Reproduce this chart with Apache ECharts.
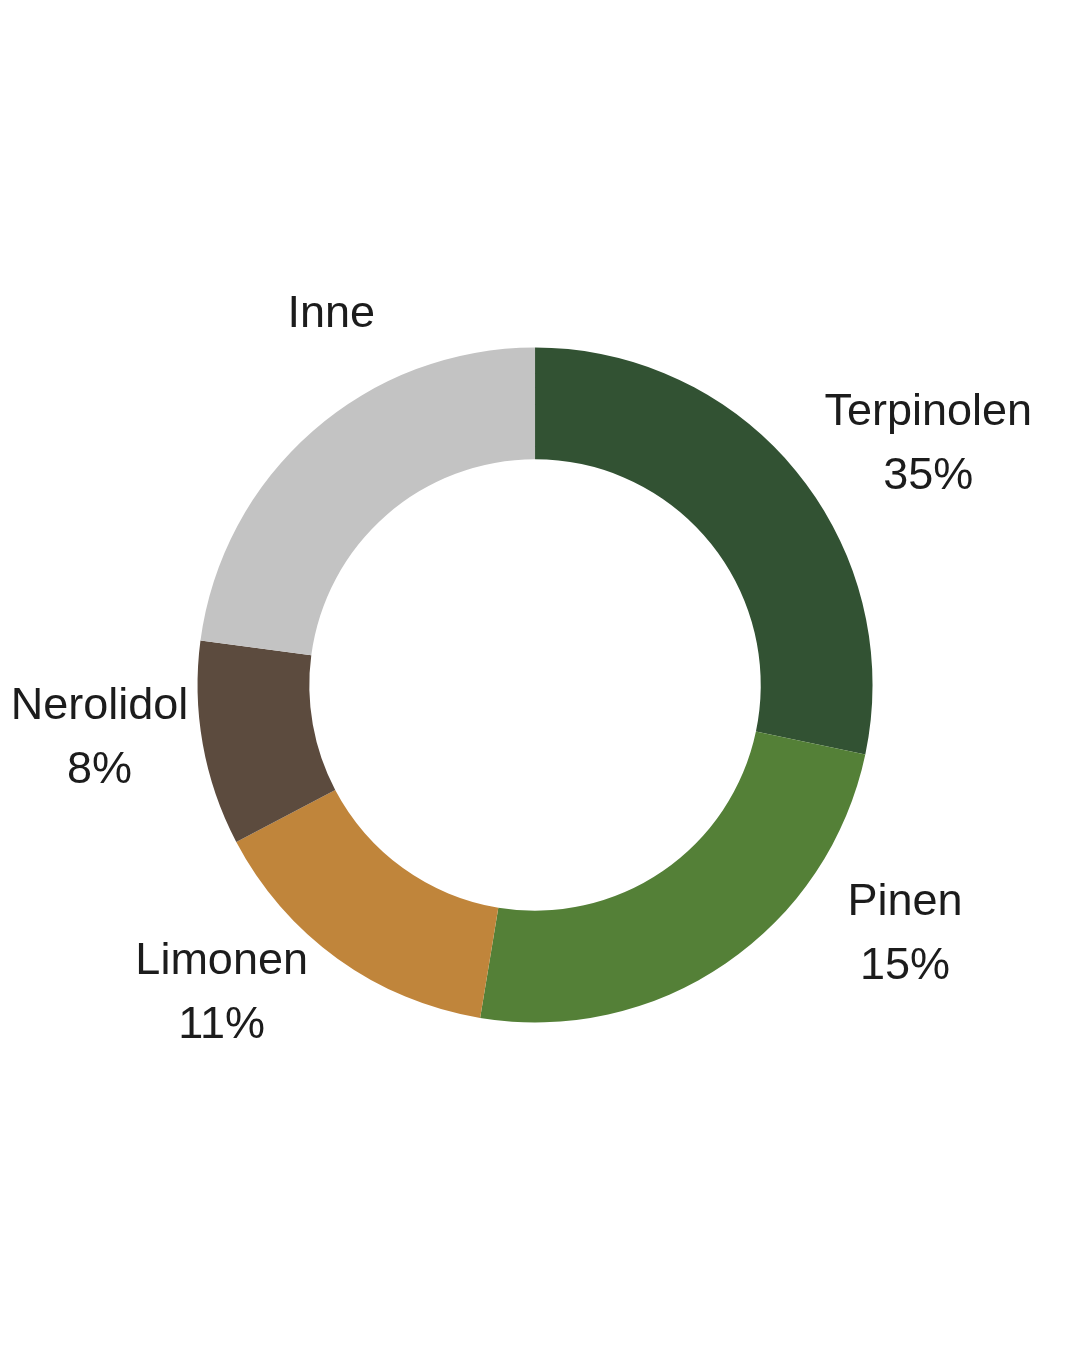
<!DOCTYPE html>
<html>
<head>
<meta charset="utf-8">
<script src="https://cdn.jsdelivr.net/npm/echarts@6/dist/echarts.min.js"></script>
<style>
html,body{margin:0;padding:0;background:#fff;}
#chart{width:1080px;height:1350px;}
</style>
</head>
<body>
<div id="chart"></div>
<script>
// Data (slice sizes read from the drawn arcs; label texts as printed)
const names = ['Terpinolen', 'Pinen', 'Limonen', 'Nerolidol', 'Inne'];
const sliceValues = [28.3, 24.3, 14.7, 9.8, 22.9];
const percentLabels = ['35%', '15%', '11%', '8%', ''];
const colors = ['#325233', '#548037', '#C0853B', '#5C4B3E', '#C3C3C3'];
// label anchor placement: angle (deg clockwise from top) and distance (fraction of outer radius)
const labelAngles = [58.6, 124.0, 225.4, 263.0, 331.2];
const labelDist = [1.365, 1.322, 1.304, 1.300, 1.253];

const CX = 0.4954, CY = 0.5074, R_IN = 0.418, R_OUT = 0.625;

const chart = echarts.init(document.getElementById('chart'), null, {renderer: 'canvas'});
const data = names.map((n, i) => ({
  name: n,
  value: sliceValues[i],
  itemStyle: {color: colors[i]},
  label: {formatter: percentLabels[i] ? n + '\n' + percentLabels[i] : n}
}));

chart.setOption({
  backgroundColor: '#ffffff',
  animation: false,
  series: [{
    type: 'pie',
    center: [(CX * 100) + '%', (CY * 100) + '%'],
    radius: [(R_IN * 100) + '%', (R_OUT * 100) + '%'],
    startAngle: 90,
    clockwise: true,
    avoidLabelOverlap: false,
    itemStyle: {borderWidth: 0},
    label: {
      show: true,
      position: 'outside',
      fontFamily: 'Liberation Sans, Arial, sans-serif',
      fontSize: 45,
      lineHeight: 64,
      color: '#1c1c1c',
      align: 'center'
    },
    labelLine: {show: false},
    labelLayout: function (p) {
      const w = chart.getWidth(), h = chart.getHeight();
      const cx = w * CX, cy = h * CY;
      const rOut = Math.min(w, h) / 2 * R_OUT;
      const a = labelAngles[p.dataIndex] * Math.PI / 180;
      const d = rOut * labelDist[p.dataIndex];
      return {
        x: cx + d * Math.sin(a),
        y: cy - d * Math.cos(a),
        align: 'center',
        verticalAlign: 'middle'
      };
    },
    emphasis: {disabled: true},
    data: data
  }]
});
</script>
</body>
</html>
